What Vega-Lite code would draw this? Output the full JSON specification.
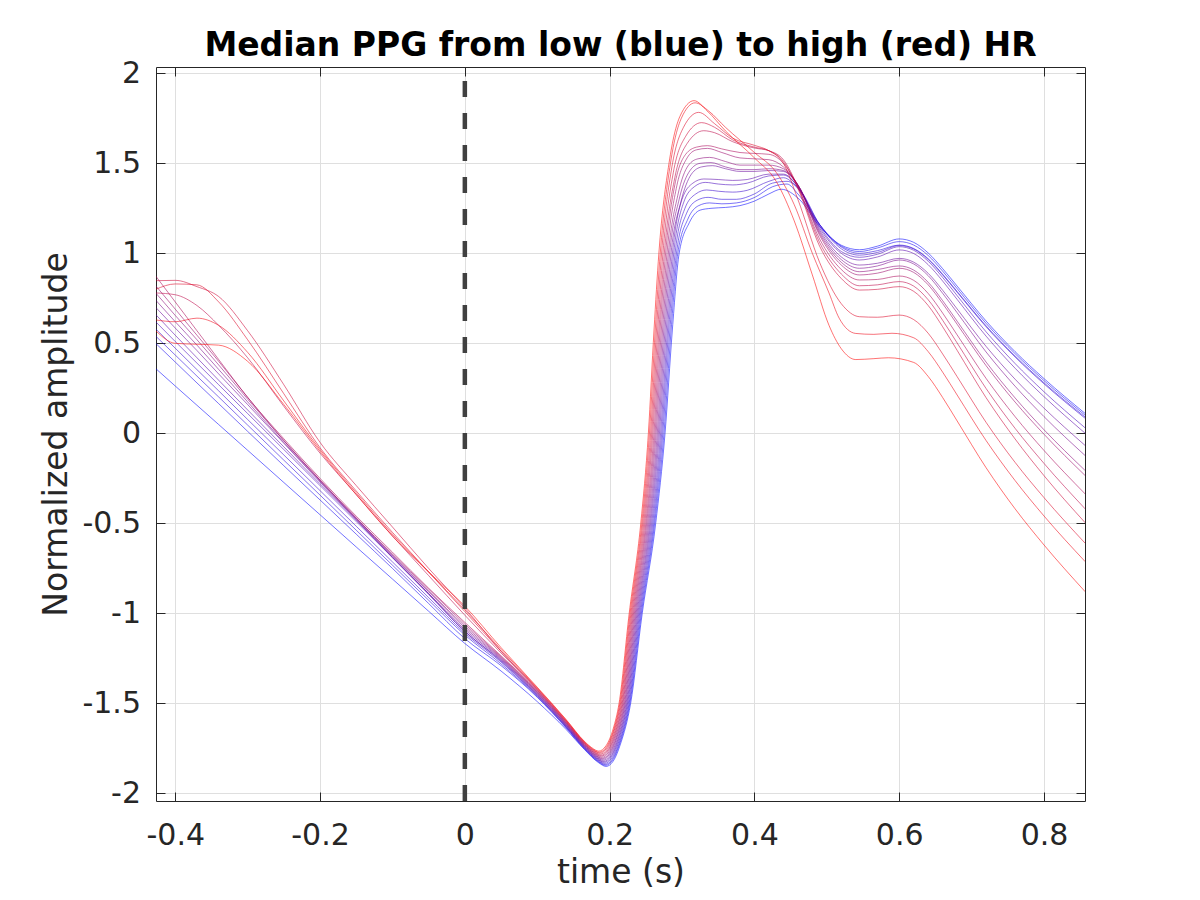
{
"$schema": "https://vega.github.io/schema/vega-lite/v6.json",
"width": 929, "height": 734,
"autosize": {"type": "none"},
"padding": {"left": 156, "top": 67, "right": 115, "bottom": 99},
"background": "white",
"title": {"text": "Median PPG from low (blue) to high (red) HR", "font": "DejaVu Sans", "fontSize": 33, "fontWeight": "bold", "color": "#000000", "anchor": "middle", "baseline": "alphabetic", "offset": 12, "dy": 43},
"datasets": {
"curves": [
{"k":0,"t":-0.427,"v":0.36},{"k":0,"t":-0.4,"v":0.263},{"k":0,"t":-0.37,"v":0.156},{"k":0,"t":-0.34,"v":0.049},{"k":0,"t":-0.3,"v":-0.094},{"k":0,"t":-0.25,"v":-0.273},{"k":0,"t":-0.2,"v":-0.452},{"k":0,"t":-0.15,"v":-0.631},{"k":0,"t":-0.1,"v":-0.809},{"k":0,"t":-0.05,"v":-0.988},{"k":0,"t":0,"v":-1.167},{"k":0,"t":0.05,"v":-1.32},{"k":0,"t":0.1,"v":-1.49},{"k":0,"t":0.14,"v":-1.645},{"k":0,"t":0.165,"v":-1.755},{"k":0,"t":0.185,"v":-1.83},{"k":0,"t":0.195,"v":-1.85},{"k":0,"t":0.205,"v":-1.82},{"k":0,"t":0.215,"v":-1.725},{"k":0,"t":0.229,"v":-1.5},{"k":0,"t":0.245,"v":-1.0},{"k":0,"t":0.2636,"v":-0.5},{"k":0,"t":0.2765,"v":0},{"k":0,"t":0.2866,"v":0.574},{"k":0,"t":0.296,"v":1.0},{"k":0,"t":0.31,"v":1.17},{"k":0,"t":0.325,"v":1.24},{"k":0,"t":0.34,"v":1.25},{"k":0,"t":0.36,"v":1.255},{"k":0,"t":0.38,"v":1.265},{"k":0,"t":0.4,"v":1.29},{"k":0,"t":0.42,"v":1.33},{"k":0,"t":0.437,"v":1.356},{"k":0,"t":0.462,"v":1.3},{"k":0,"t":0.49,"v":1.15},{"k":0,"t":0.52,"v":1.045},{"k":0,"t":0.545,"v":1.02},{"k":0,"t":0.57,"v":1.04},{"k":0,"t":0.6,"v":1.08},{"k":0,"t":0.62,"v":1.061},{"k":0,"t":0.64,"v":1.002},{"k":0,"t":0.66,"v":0.915},{"k":0,"t":0.68,"v":0.818},{"k":0,"t":0.72,"v":0.624},{"k":0,"t":0.76,"v":0.454},{"k":0,"t":0.8,"v":0.304},{"k":0,"t":0.857,"v":0.11},
{"k":1,"t":-0.427,"v":0.5},{"k":1,"t":-0.4,"v":0.396},{"k":1,"t":-0.37,"v":0.28},{"k":1,"t":-0.34,"v":0.165},{"k":1,"t":-0.3,"v":0.011},{"k":1,"t":-0.25,"v":-0.18},{"k":1,"t":-0.2,"v":-0.37},{"k":1,"t":-0.15,"v":-0.56},{"k":1,"t":-0.1,"v":-0.75},{"k":1,"t":-0.05,"v":-0.945},{"k":1,"t":0,"v":-1.14},{"k":1,"t":0.05,"v":-1.29},{"k":1,"t":0.1,"v":-1.466},{"k":1,"t":0.14,"v":-1.637},{"k":1,"t":0.165,"v":-1.752},{"k":1,"t":0.1843,"v":-1.824},{"k":1,"t":0.1943,"v":-1.844},{"k":1,"t":0.2043,"v":-1.814},{"k":1,"t":0.2143,"v":-1.719},{"k":1,"t":0.2279,"v":-1.5},{"k":1,"t":0.2438,"v":-1.0},{"k":1,"t":0.2622,"v":-0.5},{"k":1,"t":0.275,"v":0},{"k":1,"t":0.2849,"v":0.574},{"k":1,"t":0.2941,"v":1.0},{"k":1,"t":0.308,"v":1.19},{"k":1,"t":0.323,"v":1.265},{"k":1,"t":0.338,"v":1.28},{"k":1,"t":0.355,"v":1.275},{"k":1,"t":0.375,"v":1.28},{"k":1,"t":0.4,"v":1.31},{"k":1,"t":0.425,"v":1.37},{"k":1,"t":0.445,"v":1.385},{"k":1,"t":0.46,"v":1.33},{"k":1,"t":0.49,"v":1.16},{"k":1,"t":0.52,"v":1.04},{"k":1,"t":0.545,"v":1.01},{"k":1,"t":0.57,"v":1.03},{"k":1,"t":0.6,"v":1.065},{"k":1,"t":0.62,"v":1.046},{"k":1,"t":0.64,"v":0.988},{"k":1,"t":0.66,"v":0.901},{"k":1,"t":0.68,"v":0.804},{"k":1,"t":0.72,"v":0.611},{"k":1,"t":0.76,"v":0.443},{"k":1,"t":0.8,"v":0.293},{"k":1,"t":0.857,"v":0.1},
{"k":2,"t":-0.427,"v":0.54},{"k":2,"t":-0.4,"v":0.435},{"k":2,"t":-0.37,"v":0.318},{"k":2,"t":-0.34,"v":0.202},{"k":2,"t":-0.3,"v":0.046},{"k":2,"t":-0.25,"v":-0.149},{"k":2,"t":-0.2,"v":-0.343},{"k":2,"t":-0.15,"v":-0.538},{"k":2,"t":-0.1,"v":-0.732},{"k":2,"t":-0.05,"v":-0.927},{"k":2,"t":0,"v":-1.12},{"k":2,"t":0.05,"v":-1.28},{"k":2,"t":0.1,"v":-1.462},{"k":2,"t":0.14,"v":-1.633},{"k":2,"t":0.165,"v":-1.749},{"k":2,"t":0.1837,"v":-1.819},{"k":2,"t":0.1937,"v":-1.839},{"k":2,"t":0.2037,"v":-1.809},{"k":2,"t":0.2137,"v":-1.714},{"k":2,"t":0.2269,"v":-1.5},{"k":2,"t":0.2426,"v":-1.0},{"k":2,"t":0.2609,"v":-0.5},{"k":2,"t":0.2734,"v":0},{"k":2,"t":0.2832,"v":0.574},{"k":2,"t":0.2923,"v":1.0},{"k":2,"t":0.306,"v":1.22},{"k":2,"t":0.321,"v":1.295},{"k":2,"t":0.336,"v":1.311},{"k":2,"t":0.355,"v":1.3},{"k":2,"t":0.375,"v":1.3},{"k":2,"t":0.4,"v":1.33},{"k":2,"t":0.425,"v":1.39},{"k":2,"t":0.445,"v":1.4},{"k":2,"t":0.465,"v":1.34},{"k":2,"t":0.49,"v":1.16},{"k":2,"t":0.52,"v":1.035},{"k":2,"t":0.545,"v":1.0},{"k":2,"t":0.57,"v":1.015},{"k":2,"t":0.6,"v":1.046},{"k":2,"t":0.62,"v":1.027},{"k":2,"t":0.64,"v":0.97},{"k":2,"t":0.66,"v":0.884},{"k":2,"t":0.68,"v":0.788},{"k":2,"t":0.72,"v":0.597},{"k":2,"t":0.76,"v":0.43},{"k":2,"t":0.8,"v":0.281},{"k":2,"t":0.857,"v":0.09},
{"k":3,"t":-0.427,"v":0.58},{"k":3,"t":-0.4,"v":0.473},{"k":3,"t":-0.37,"v":0.354},{"k":3,"t":-0.34,"v":0.236},{"k":3,"t":-0.3,"v":0.077},{"k":3,"t":-0.25,"v":-0.12},{"k":3,"t":-0.2,"v":-0.318},{"k":3,"t":-0.15,"v":-0.516},{"k":3,"t":-0.1,"v":-0.714},{"k":3,"t":-0.05,"v":-0.912},{"k":3,"t":0,"v":-1.11},{"k":3,"t":0.05,"v":-1.27},{"k":3,"t":0.1,"v":-1.458},{"k":3,"t":0.14,"v":-1.63},{"k":3,"t":0.165,"v":-1.746},{"k":3,"t":0.183,"v":-1.813},{"k":3,"t":0.193,"v":-1.833},{"k":3,"t":0.203,"v":-1.803},{"k":3,"t":0.213,"v":-1.708},{"k":3,"t":0.2258,"v":-1.5},{"k":3,"t":0.2414,"v":-1.0},{"k":3,"t":0.2595,"v":-0.5},{"k":3,"t":0.2719,"v":0},{"k":3,"t":0.2815,"v":0.574},{"k":3,"t":0.2904,"v":1.0},{"k":3,"t":0.304,"v":1.25},{"k":3,"t":0.319,"v":1.33},{"k":3,"t":0.334,"v":1.352},{"k":3,"t":0.35,"v":1.345},{"k":3,"t":0.37,"v":1.34},{"k":3,"t":0.39,"v":1.35},{"k":3,"t":0.42,"v":1.4},{"k":3,"t":0.44,"v":1.42},{"k":3,"t":0.46,"v":1.36},{"k":3,"t":0.49,"v":1.16},{"k":3,"t":0.52,"v":1.025},{"k":3,"t":0.545,"v":0.99},{"k":3,"t":0.57,"v":1.005},{"k":3,"t":0.6,"v":1.043},{"k":3,"t":0.62,"v":1.024},{"k":3,"t":0.64,"v":0.966},{"k":3,"t":0.66,"v":0.88},{"k":3,"t":0.68,"v":0.784},{"k":3,"t":0.72,"v":0.592},{"k":3,"t":0.76,"v":0.424},{"k":3,"t":0.8,"v":0.275},{"k":3,"t":0.857,"v":0.083},
{"k":4,"t":-0.427,"v":0.62},{"k":4,"t":-0.4,"v":0.51},{"k":4,"t":-0.37,"v":0.39},{"k":4,"t":-0.34,"v":0.27},{"k":4,"t":-0.3,"v":0.11},{"k":4,"t":-0.25,"v":-0.09},{"k":4,"t":-0.2,"v":-0.29},{"k":4,"t":-0.15,"v":-0.49},{"k":4,"t":-0.1,"v":-0.69},{"k":4,"t":-0.05,"v":-0.895},{"k":4,"t":0,"v":-1.1},{"k":4,"t":0.05,"v":-1.265},{"k":4,"t":0.1,"v":-1.454},{"k":4,"t":0.14,"v":-1.627},{"k":4,"t":0.165,"v":-1.743},{"k":4,"t":0.1823,"v":-1.807},{"k":4,"t":0.1923,"v":-1.827},{"k":4,"t":0.2023,"v":-1.797},{"k":4,"t":0.2123,"v":-1.702},{"k":4,"t":0.2247,"v":-1.5},{"k":4,"t":0.2402,"v":-1.0},{"k":4,"t":0.2581,"v":-0.5},{"k":4,"t":0.2704,"v":0},{"k":4,"t":0.2799,"v":0.574},{"k":4,"t":0.2885,"v":1.0},{"k":4,"t":0.302,"v":1.28},{"k":4,"t":0.317,"v":1.37},{"k":4,"t":0.332,"v":1.394},{"k":4,"t":0.35,"v":1.385},{"k":4,"t":0.37,"v":1.38},{"k":4,"t":0.39,"v":1.39},{"k":4,"t":0.42,"v":1.43},{"k":4,"t":0.44,"v":1.435},{"k":4,"t":0.46,"v":1.37},{"k":4,"t":0.49,"v":1.15},{"k":4,"t":0.52,"v":1.01},{"k":4,"t":0.545,"v":0.978},{"k":4,"t":0.57,"v":0.995},{"k":4,"t":0.6,"v":1.037},{"k":4,"t":0.62,"v":1.017},{"k":4,"t":0.64,"v":0.956},{"k":4,"t":0.66,"v":0.866},{"k":4,"t":0.68,"v":0.765},{"k":4,"t":0.72,"v":0.564},{"k":4,"t":0.76,"v":0.388},{"k":4,"t":0.8,"v":0.231},{"k":4,"t":0.857,"v":0.03},
{"k":5,"t":-0.427,"v":0.66},{"k":5,"t":-0.4,"v":0.545},{"k":5,"t":-0.37,"v":0.42},{"k":5,"t":-0.34,"v":0.295},{"k":5,"t":-0.3,"v":0.13},{"k":5,"t":-0.25,"v":-0.075},{"k":5,"t":-0.2,"v":-0.28},{"k":5,"t":-0.15,"v":-0.48},{"k":5,"t":-0.1,"v":-0.685},{"k":5,"t":-0.05,"v":-0.89},{"k":5,"t":0,"v":-1.1},{"k":5,"t":0.05,"v":-1.26},{"k":5,"t":0.1,"v":-1.45},{"k":5,"t":0.14,"v":-1.623},{"k":5,"t":0.165,"v":-1.74},{"k":5,"t":0.1817,"v":-1.802},{"k":5,"t":0.1917,"v":-1.822},{"k":5,"t":0.2017,"v":-1.792},{"k":5,"t":0.2117,"v":-1.697},{"k":5,"t":0.2237,"v":-1.5},{"k":5,"t":0.239,"v":-1.0},{"k":5,"t":0.2567,"v":-0.5},{"k":5,"t":0.2688,"v":0},{"k":5,"t":0.2782,"v":0.574},{"k":5,"t":0.2867,"v":1.0},{"k":5,"t":0.3,"v":1.3},{"k":5,"t":0.315,"v":1.39},{"k":5,"t":0.33,"v":1.413},{"k":5,"t":0.35,"v":1.41},{"k":5,"t":0.37,"v":1.405},{"k":5,"t":0.39,"v":1.41},{"k":5,"t":0.42,"v":1.44},{"k":5,"t":0.44,"v":1.44},{"k":5,"t":0.46,"v":1.37},{"k":5,"t":0.49,"v":1.14},{"k":5,"t":0.52,"v":1.0},{"k":5,"t":0.545,"v":0.963},{"k":5,"t":0.57,"v":0.98},{"k":5,"t":0.6,"v":1.019},{"k":5,"t":0.62,"v":0.999},{"k":5,"t":0.64,"v":0.937},{"k":5,"t":0.66,"v":0.846},{"k":5,"t":0.68,"v":0.744},{"k":5,"t":0.72,"v":0.54},{"k":5,"t":0.76,"v":0.362},{"k":5,"t":0.8,"v":0.204},{"k":5,"t":0.857,"v":0.0},
{"k":6,"t":-0.427,"v":0.7},{"k":6,"t":-0.4,"v":0.585},{"k":6,"t":-0.37,"v":0.46},{"k":6,"t":-0.34,"v":0.33},{"k":6,"t":-0.3,"v":0.16},{"k":6,"t":-0.25,"v":-0.055},{"k":6,"t":-0.2,"v":-0.27},{"k":6,"t":-0.15,"v":-0.48},{"k":6,"t":-0.1,"v":-0.69},{"k":6,"t":-0.05,"v":-0.89},{"k":6,"t":0,"v":-1.09},{"k":6,"t":0.05,"v":-1.255},{"k":6,"t":0.1,"v":-1.446},{"k":6,"t":0.14,"v":-1.62},{"k":6,"t":0.165,"v":-1.737},{"k":6,"t":0.181,"v":-1.796},{"k":6,"t":0.191,"v":-1.816},{"k":6,"t":0.201,"v":-1.786},{"k":6,"t":0.211,"v":-1.691},{"k":6,"t":0.2226,"v":-1.5},{"k":6,"t":0.2378,"v":-1.0},{"k":6,"t":0.2554,"v":-0.5},{"k":6,"t":0.2673,"v":0},{"k":6,"t":0.2765,"v":0.574},{"k":6,"t":0.2848,"v":1.0},{"k":6,"t":0.298,"v":1.28},{"k":6,"t":0.313,"v":1.44},{"k":6,"t":0.327,"v":1.48},{"k":6,"t":0.342,"v":1.487},{"k":6,"t":0.36,"v":1.47},{"k":6,"t":0.38,"v":1.455},{"k":6,"t":0.4,"v":1.455},{"k":6,"t":0.42,"v":1.46},{"k":6,"t":0.44,"v":1.455},{"k":6,"t":0.46,"v":1.38},{"k":6,"t":0.49,"v":1.13},{"k":6,"t":0.52,"v":0.98},{"k":6,"t":0.545,"v":0.935},{"k":6,"t":0.57,"v":0.945},{"k":6,"t":0.6,"v":0.972},{"k":6,"t":0.62,"v":0.951},{"k":6,"t":0.64,"v":0.889},{"k":6,"t":0.66,"v":0.795},{"k":6,"t":0.68,"v":0.691},{"k":6,"t":0.72,"v":0.483},{"k":6,"t":0.76,"v":0.301},{"k":6,"t":0.8,"v":0.14},{"k":6,"t":0.857,"v":-0.068},
{"k":7,"t":-0.427,"v":0.74},{"k":7,"t":-0.4,"v":0.62},{"k":7,"t":-0.37,"v":0.49},{"k":7,"t":-0.34,"v":0.355},{"k":7,"t":-0.3,"v":0.175},{"k":7,"t":-0.25,"v":-0.05},{"k":7,"t":-0.2,"v":-0.265},{"k":7,"t":-0.15,"v":-0.475},{"k":7,"t":-0.1,"v":-0.68},{"k":7,"t":-0.05,"v":-0.88},{"k":7,"t":0,"v":-1.08},{"k":7,"t":0.05,"v":-1.25},{"k":7,"t":0.1,"v":-1.442},{"k":7,"t":0.14,"v":-1.617},{"k":7,"t":0.165,"v":-1.734},{"k":7,"t":0.1803,"v":-1.79},{"k":7,"t":0.1903,"v":-1.81},{"k":7,"t":0.2003,"v":-1.78},{"k":7,"t":0.2103,"v":-1.685},{"k":7,"t":0.2215,"v":-1.5},{"k":7,"t":0.2366,"v":-1.0},{"k":7,"t":0.254,"v":-0.5},{"k":7,"t":0.2658,"v":0},{"k":7,"t":0.2748,"v":0.574},{"k":7,"t":0.2829,"v":1.0},{"k":7,"t":0.296,"v":1.3},{"k":7,"t":0.311,"v":1.46},{"k":7,"t":0.325,"v":1.5},{"k":7,"t":0.34,"v":1.504},{"k":7,"t":0.36,"v":1.48},{"k":7,"t":0.38,"v":1.465},{"k":7,"t":0.4,"v":1.465},{"k":7,"t":0.42,"v":1.47},{"k":7,"t":0.44,"v":1.46},{"k":7,"t":0.46,"v":1.38},{"k":7,"t":0.49,"v":1.12},{"k":7,"t":0.52,"v":0.965},{"k":7,"t":0.545,"v":0.917},{"k":7,"t":0.57,"v":0.93},{"k":7,"t":0.6,"v":0.963},{"k":7,"t":0.62,"v":0.941},{"k":7,"t":0.64,"v":0.876},{"k":7,"t":0.66,"v":0.778},{"k":7,"t":0.68,"v":0.67},{"k":7,"t":0.72,"v":0.452},{"k":7,"t":0.76,"v":0.262},{"k":7,"t":0.8,"v":0.093},{"k":7,"t":0.857,"v":-0.124},
{"k":8,"t":-0.427,"v":0.78},{"k":8,"t":-0.4,"v":0.655},{"k":8,"t":-0.37,"v":0.52},{"k":8,"t":-0.34,"v":0.38},{"k":8,"t":-0.3,"v":0.19},{"k":8,"t":-0.25,"v":-0.04},{"k":8,"t":-0.2,"v":-0.26},{"k":8,"t":-0.15,"v":-0.47},{"k":8,"t":-0.1,"v":-0.675},{"k":8,"t":-0.05,"v":-0.875},{"k":8,"t":0,"v":-1.07},{"k":8,"t":0.05,"v":-1.245},{"k":8,"t":0.1,"v":-1.438},{"k":8,"t":0.14,"v":-1.613},{"k":8,"t":0.165,"v":-1.731},{"k":8,"t":0.1797,"v":-1.785},{"k":8,"t":0.1897,"v":-1.805},{"k":8,"t":0.1997,"v":-1.775},{"k":8,"t":0.2097,"v":-1.68},{"k":8,"t":0.2205,"v":-1.5},{"k":8,"t":0.2354,"v":-1.0},{"k":8,"t":0.2526,"v":-0.5},{"k":8,"t":0.2642,"v":0},{"k":8,"t":0.2731,"v":0.574},{"k":8,"t":0.2811,"v":1.0},{"k":8,"t":0.294,"v":1.32},{"k":8,"t":0.309,"v":1.49},{"k":8,"t":0.322,"v":1.525},{"k":8,"t":0.338,"v":1.533},{"k":8,"t":0.36,"v":1.51},{"k":8,"t":0.38,"v":1.49},{"k":8,"t":0.4,"v":1.49},{"k":8,"t":0.42,"v":1.49},{"k":8,"t":0.44,"v":1.47},{"k":8,"t":0.46,"v":1.38},{"k":8,"t":0.49,"v":1.11},{"k":8,"t":0.52,"v":0.95},{"k":8,"t":0.545,"v":0.898},{"k":8,"t":0.57,"v":0.91},{"k":8,"t":0.6,"v":0.93},{"k":8,"t":0.62,"v":0.907},{"k":8,"t":0.64,"v":0.839},{"k":8,"t":0.66,"v":0.737},{"k":8,"t":0.68,"v":0.623},{"k":8,"t":0.72,"v":0.396},{"k":8,"t":0.76,"v":0.197},{"k":8,"t":0.8,"v":0.02},{"k":8,"t":0.857,"v":-0.207},
{"k":9,"t":-0.427,"v":0.82},{"k":9,"t":-0.4,"v":0.69},{"k":9,"t":-0.37,"v":0.545},{"k":9,"t":-0.34,"v":0.4},{"k":9,"t":-0.3,"v":0.2},{"k":9,"t":-0.25,"v":-0.04},{"k":9,"t":-0.2,"v":-0.26},{"k":9,"t":-0.15,"v":-0.47},{"k":9,"t":-0.1,"v":-0.67},{"k":9,"t":-0.05,"v":-0.865},{"k":9,"t":0,"v":-1.06},{"k":9,"t":0.05,"v":-1.24},{"k":9,"t":0.1,"v":-1.434},{"k":9,"t":0.14,"v":-1.61},{"k":9,"t":0.165,"v":-1.728},{"k":9,"t":0.179,"v":-1.779},{"k":9,"t":0.189,"v":-1.799},{"k":9,"t":0.199,"v":-1.769},{"k":9,"t":0.209,"v":-1.674},{"k":9,"t":0.2194,"v":-1.5},{"k":9,"t":0.2342,"v":-1.0},{"k":9,"t":0.2512,"v":-0.5},{"k":9,"t":0.2627,"v":0},{"k":9,"t":0.2714,"v":0.574},{"k":9,"t":0.2792,"v":1.0},{"k":9,"t":0.292,"v":1.36},{"k":9,"t":0.307,"v":1.53},{"k":9,"t":0.32,"v":1.575},{"k":9,"t":0.335,"v":1.583},{"k":9,"t":0.355,"v":1.56},{"k":9,"t":0.38,"v":1.53},{"k":9,"t":0.4,"v":1.525},{"k":9,"t":0.42,"v":1.52},{"k":9,"t":0.44,"v":1.48},{"k":9,"t":0.46,"v":1.38},{"k":9,"t":0.49,"v":1.1},{"k":9,"t":0.52,"v":0.935},{"k":9,"t":0.545,"v":0.88},{"k":9,"t":0.57,"v":0.89},{"k":9,"t":0.6,"v":0.917},{"k":9,"t":0.62,"v":0.894},{"k":9,"t":0.64,"v":0.825},{"k":9,"t":0.66,"v":0.721},{"k":9,"t":0.68,"v":0.606},{"k":9,"t":0.72,"v":0.376},{"k":9,"t":0.76,"v":0.174},{"k":9,"t":0.8,"v":-0.005},{"k":9,"t":0.857,"v":-0.235},
{"k":10,"t":-0.427,"v":0.874},{"k":10,"t":-0.4,"v":0.73},{"k":10,"t":-0.37,"v":0.57},{"k":10,"t":-0.34,"v":0.41},{"k":10,"t":-0.3,"v":0.2},{"k":10,"t":-0.25,"v":-0.03},{"k":10,"t":-0.2,"v":-0.25},{"k":10,"t":-0.15,"v":-0.46},{"k":10,"t":-0.1,"v":-0.66},{"k":10,"t":-0.05,"v":-0.86},{"k":10,"t":0,"v":-1.05},{"k":10,"t":0.05,"v":-1.235},{"k":10,"t":0.1,"v":-1.43},{"k":10,"t":0.14,"v":-1.607},{"k":10,"t":0.165,"v":-1.725},{"k":10,"t":0.1783,"v":-1.773},{"k":10,"t":0.1883,"v":-1.793},{"k":10,"t":0.1983,"v":-1.763},{"k":10,"t":0.2083,"v":-1.668},{"k":10,"t":0.2183,"v":-1.5},{"k":10,"t":0.233,"v":-1.0},{"k":10,"t":0.2499,"v":-0.5},{"k":10,"t":0.2612,"v":0},{"k":10,"t":0.2697,"v":0.574},{"k":10,"t":0.2773,"v":1.0},{"k":10,"t":0.29,"v":1.38},{"k":10,"t":0.305,"v":1.55},{"k":10,"t":0.32,"v":1.59},{"k":10,"t":0.335,"v":1.598},{"k":10,"t":0.355,"v":1.58},{"k":10,"t":0.38,"v":1.56},{"k":10,"t":0.4,"v":1.555},{"k":10,"t":0.42,"v":1.55},{"k":10,"t":0.44,"v":1.5},{"k":10,"t":0.46,"v":1.37},{"k":10,"t":0.49,"v":1.08},{"k":10,"t":0.52,"v":0.91},{"k":10,"t":0.545,"v":0.852},{"k":10,"t":0.57,"v":0.855},{"k":10,"t":0.6,"v":0.874},{"k":10,"t":0.62,"v":0.85},{"k":10,"t":0.64,"v":0.777},{"k":10,"t":0.66,"v":0.668},{"k":10,"t":0.68,"v":0.547},{"k":10,"t":0.72,"v":0.305},{"k":10,"t":0.76,"v":0.093},{"k":10,"t":0.8,"v":-0.095},{"k":10,"t":0.857,"v":-0.337},
{"k":11,"t":-0.427,"v":0.78},{"k":11,"t":-0.4,"v":0.77},{"k":11,"t":-0.37,"v":0.71},{"k":11,"t":-0.34,"v":0.6},{"k":11,"t":-0.3,"v":0.42},{"k":11,"t":-0.25,"v":0.15},{"k":11,"t":-0.2,"v":-0.11},{"k":11,"t":-0.15,"v":-0.34},{"k":11,"t":-0.1,"v":-0.57},{"k":11,"t":-0.05,"v":-0.79},{"k":11,"t":0,"v":-1.01},{"k":11,"t":0.05,"v":-1.22},{"k":11,"t":0.1,"v":-1.426},{"k":11,"t":0.14,"v":-1.603},{"k":11,"t":0.165,"v":-1.722},{"k":11,"t":0.1777,"v":-1.768},{"k":11,"t":0.1877,"v":-1.788},{"k":11,"t":0.1977,"v":-1.758},{"k":11,"t":0.2077,"v":-1.663},{"k":11,"t":0.2173,"v":-1.5},{"k":11,"t":0.2318,"v":-1.0},{"k":11,"t":0.2485,"v":-0.5},{"k":11,"t":0.2596,"v":0},{"k":11,"t":0.2681,"v":0.574},{"k":11,"t":0.2755,"v":1.0},{"k":11,"t":0.29,"v":1.42},{"k":11,"t":0.307,"v":1.61},{"k":11,"t":0.33,"v":1.681},{"k":11,"t":0.345,"v":1.67},{"k":11,"t":0.37,"v":1.62},{"k":11,"t":0.4,"v":1.585},{"k":11,"t":0.42,"v":1.57},{"k":11,"t":0.44,"v":1.52},{"k":11,"t":0.46,"v":1.37},{"k":11,"t":0.49,"v":1.06},{"k":11,"t":0.52,"v":0.885},{"k":11,"t":0.545,"v":0.82},{"k":11,"t":0.57,"v":0.825},{"k":11,"t":0.6,"v":0.843},{"k":11,"t":0.62,"v":0.818},{"k":11,"t":0.64,"v":0.742},{"k":11,"t":0.66,"v":0.628},{"k":11,"t":0.68,"v":0.502},{"k":11,"t":0.72,"v":0.249},{"k":11,"t":0.76,"v":0.028},{"k":11,"t":0.8,"v":-0.167},{"k":11,"t":0.857,"v":-0.42},
{"k":12,"t":-0.427,"v":0.848},{"k":12,"t":-0.4,"v":0.85},{"k":12,"t":-0.37,"v":0.815},{"k":12,"t":-0.34,"v":0.76},{"k":12,"t":-0.3,"v":0.57},{"k":12,"t":-0.25,"v":0.27},{"k":12,"t":-0.2,"v":-0.05},{"k":12,"t":-0.15,"v":-0.29},{"k":12,"t":-0.1,"v":-0.52},{"k":12,"t":-0.05,"v":-0.75},{"k":12,"t":0,"v":-0.97},{"k":12,"t":0.05,"v":-1.21},{"k":12,"t":0.1,"v":-1.422},{"k":12,"t":0.14,"v":-1.6},{"k":12,"t":0.165,"v":-1.719},{"k":12,"t":0.177,"v":-1.762},{"k":12,"t":0.187,"v":-1.782},{"k":12,"t":0.197,"v":-1.752},{"k":12,"t":0.207,"v":-1.657},{"k":12,"t":0.2162,"v":-1.5},{"k":12,"t":0.2306,"v":-1.0},{"k":12,"t":0.2471,"v":-0.5},{"k":12,"t":0.2581,"v":0},{"k":12,"t":0.2664,"v":0.574},{"k":12,"t":0.2736,"v":1.0},{"k":12,"t":0.288,"v":1.45},{"k":12,"t":0.305,"v":1.65},{"k":12,"t":0.327,"v":1.726},{"k":12,"t":0.345,"v":1.7},{"k":12,"t":0.37,"v":1.63},{"k":12,"t":0.4,"v":1.59},{"k":12,"t":0.42,"v":1.57},{"k":12,"t":0.44,"v":1.51},{"k":12,"t":0.46,"v":1.36},{"k":12,"t":0.49,"v":1.04},{"k":12,"t":0.52,"v":0.86},{"k":12,"t":0.545,"v":0.796},{"k":12,"t":0.57,"v":0.8},{"k":12,"t":0.6,"v":0.815},{"k":12,"t":0.62,"v":0.789},{"k":12,"t":0.64,"v":0.71},{"k":12,"t":0.66,"v":0.592},{"k":12,"t":0.68,"v":0.461},{"k":12,"t":0.72,"v":0.198},{"k":12,"t":0.76,"v":-0.031},{"k":12,"t":0.8,"v":-0.235},{"k":12,"t":0.857,"v":-0.497},
{"k":13,"t":-0.427,"v":0.8},{"k":13,"t":-0.4,"v":0.83},{"k":13,"t":-0.37,"v":0.825},{"k":13,"t":-0.34,"v":0.73},{"k":13,"t":-0.3,"v":0.52},{"k":13,"t":-0.25,"v":0.22},{"k":13,"t":-0.2,"v":-0.08},{"k":13,"t":-0.15,"v":-0.32},{"k":13,"t":-0.1,"v":-0.55},{"k":13,"t":-0.05,"v":-0.77},{"k":13,"t":0,"v":-0.99},{"k":13,"t":0.05,"v":-1.21},{"k":13,"t":0.1,"v":-1.418},{"k":13,"t":0.14,"v":-1.597},{"k":13,"t":0.165,"v":-1.716},{"k":13,"t":0.1763,"v":-1.756},{"k":13,"t":0.1863,"v":-1.776},{"k":13,"t":0.1963,"v":-1.746},{"k":13,"t":0.2063,"v":-1.651},{"k":13,"t":0.2151,"v":-1.5},{"k":13,"t":0.2294,"v":-1.0},{"k":13,"t":0.2457,"v":-0.5},{"k":13,"t":0.2566,"v":0},{"k":13,"t":0.2647,"v":0.574},{"k":13,"t":0.2717,"v":1.0},{"k":13,"t":0.286,"v":1.48},{"k":13,"t":0.302,"v":1.7},{"k":13,"t":0.323,"v":1.783},{"k":13,"t":0.345,"v":1.72},{"k":13,"t":0.37,"v":1.64},{"k":13,"t":0.4,"v":1.6},{"k":13,"t":0.42,"v":1.57},{"k":13,"t":0.44,"v":1.5},{"k":13,"t":0.46,"v":1.3},{"k":13,"t":0.49,"v":0.95},{"k":13,"t":0.52,"v":0.72},{"k":13,"t":0.545,"v":0.648},{"k":13,"t":0.57,"v":0.645},{"k":13,"t":0.6,"v":0.657},{"k":13,"t":0.62,"v":0.632},{"k":13,"t":0.64,"v":0.556},{"k":13,"t":0.66,"v":0.441},{"k":13,"t":0.68,"v":0.315},{"k":13,"t":0.72,"v":0.061},{"k":13,"t":0.76,"v":-0.161},{"k":13,"t":0.8,"v":-0.357},{"k":13,"t":0.857,"v":-0.611},
{"k":14,"t":-0.427,"v":0.63},{"k":14,"t":-0.4,"v":0.62},{"k":14,"t":-0.37,"v":0.64},{"k":14,"t":-0.34,"v":0.6},{"k":14,"t":-0.3,"v":0.45},{"k":14,"t":-0.25,"v":0.18},{"k":14,"t":-0.2,"v":-0.09},{"k":14,"t":-0.15,"v":-0.33},{"k":14,"t":-0.1,"v":-0.56},{"k":14,"t":-0.05,"v":-0.77},{"k":14,"t":0,"v":-0.98},{"k":14,"t":0.05,"v":-1.2},{"k":14,"t":0.1,"v":-1.414},{"k":14,"t":0.14,"v":-1.593},{"k":14,"t":0.165,"v":-1.713},{"k":14,"t":0.1757,"v":-1.751},{"k":14,"t":0.1857,"v":-1.771},{"k":14,"t":0.1957,"v":-1.741},{"k":14,"t":0.2057,"v":-1.646},{"k":14,"t":0.2141,"v":-1.5},{"k":14,"t":0.2282,"v":-1.0},{"k":14,"t":0.2444,"v":-0.5},{"k":14,"t":0.255,"v":0},{"k":14,"t":0.263,"v":0.574},{"k":14,"t":0.2699,"v":1.0},{"k":14,"t":0.284,"v":1.5},{"k":14,"t":0.299,"v":1.75},{"k":14,"t":0.318,"v":1.836},{"k":14,"t":0.337,"v":1.79},{"k":14,"t":0.36,"v":1.7},{"k":14,"t":0.4,"v":1.56},{"k":14,"t":0.43,"v":1.45},{"k":14,"t":0.455,"v":1.27},{"k":14,"t":0.48,"v":1.0},{"k":14,"t":0.503,"v":0.78},{"k":14,"t":0.517,"v":0.64},{"k":14,"t":0.54,"v":0.555},{"k":14,"t":0.565,"v":0.55},{"k":14,"t":0.59,"v":0.556},{"k":14,"t":0.62,"v":0.531},{"k":14,"t":0.64,"v":0.454},{"k":14,"t":0.66,"v":0.34},{"k":14,"t":0.68,"v":0.213},{"k":14,"t":0.72,"v":-0.04},{"k":14,"t":0.76,"v":-0.262},{"k":14,"t":0.8,"v":-0.459},{"k":14,"t":0.857,"v":-0.713},
{"k":15,"t":-0.427,"v":0.57},{"k":15,"t":-0.4,"v":0.5},{"k":15,"t":-0.37,"v":0.495},{"k":15,"t":-0.34,"v":0.49},{"k":15,"t":-0.3,"v":0.4},{"k":15,"t":-0.25,"v":0.16},{"k":15,"t":-0.2,"v":-0.1},{"k":15,"t":-0.15,"v":-0.34},{"k":15,"t":-0.1,"v":-0.57},{"k":15,"t":-0.05,"v":-0.77},{"k":15,"t":0,"v":-0.96},{"k":15,"t":0.05,"v":-1.19},{"k":15,"t":0.1,"v":-1.41},{"k":15,"t":0.14,"v":-1.59},{"k":15,"t":0.165,"v":-1.71},{"k":15,"t":0.175,"v":-1.745},{"k":15,"t":0.185,"v":-1.765},{"k":15,"t":0.195,"v":-1.735},{"k":15,"t":0.205,"v":-1.64},{"k":15,"t":0.213,"v":-1.5},{"k":15,"t":0.227,"v":-1.0},{"k":15,"t":0.243,"v":-0.5},{"k":15,"t":0.2535,"v":0},{"k":15,"t":0.2613,"v":0.574},{"k":15,"t":0.268,"v":1.0},{"k":15,"t":0.282,"v":1.5},{"k":15,"t":0.297,"v":1.76},{"k":15,"t":0.3166,"v":1.848},{"k":15,"t":0.335,"v":1.79},{"k":15,"t":0.36,"v":1.68},{"k":15,"t":0.4,"v":1.53},{"k":15,"t":0.43,"v":1.4},{"k":15,"t":0.455,"v":1.18},{"k":15,"t":0.48,"v":0.88},{"k":15,"t":0.503,"v":0.6},{"k":15,"t":0.52,"v":0.47},{"k":15,"t":0.54,"v":0.41},{"k":15,"t":0.565,"v":0.415},{"k":15,"t":0.585,"v":0.42},{"k":15,"t":0.62,"v":0.394},{"k":15,"t":0.64,"v":0.316},{"k":15,"t":0.66,"v":0.199},{"k":15,"t":0.68,"v":0.069},{"k":15,"t":0.72,"v":-0.191},{"k":15,"t":0.76,"v":-0.419},{"k":15,"t":0.8,"v":-0.62},{"k":15,"t":0.857,"v":-0.88}
],
"marker": [{"t": 0}]
},
"layer": [
{
"data": {"name": "curves"},
"mark": {"type": "line", "strokeWidth": 1, "opacity": 0.55, "interpolate": "monotone", "clip": true},
"encoding": {
"x": {"field": "t", "type": "quantitative", "scale": {"domain": [-0.4266, 0.8566], "nice": false, "zero": false},
"axis": {"orient": "bottom", "values": [-0.4, -0.2, 0, 0.2, 0.4, 0.6, 0.8], "labelExpr": "'' + datum.value", "title": "time (s)", "grid": true, "labelPadding": 28, "titleBaseline": "alphabetic", "titleY": 81.5}},
"y": {"field": "v", "type": "quantitative", "scale": {"domain": [-2.042, 2.035], "nice": false, "zero": false},
"axis": {"orient": "left", "values": [-2, -1.5, -1, -0.5, 0, 0.5, 1, 1.5, 2], "labelExpr": "'' + datum.value", "title": "Normalized amplitude", "grid": true, "labelPadding": 24.5, "titleBaseline": "alphabetic", "titleX": -90, "titleY": 367, "titleAngle": 270}},
"color": {"field": "k", "type": "quantitative", "scale": {"domain": [0, 15], "range": ["#0000ff", "#ff0000"], "interpolate": "rgb"}, "legend": null},
"detail": {"field": "k", "type": "nominal"}
}
},
{
"data": {"name": "marker"},
"mark": {"type": "rule", "color": "#404040", "strokeWidth": 4.5, "strokeDash": [16, 16]},
"encoding": {
"x": {"field": "t", "type": "quantitative", "axis": {"orient": "top", "values": [-0.4, -0.2, 0, 0.2, 0.4, 0.6, 0.8], "labels": false, "title": null, "grid": false}},
"y": {"datum": -2.042, "type": "quantitative", "axis": {"orient": "right", "values": [-2, -1.5, -1, -0.5, 0, 0.5, 1, 1.5, 2], "labels": false, "title": null, "grid": false}},
"y2": {"datum": 2.035}
}
}
],
"resolve": {"axis": {"x": "independent", "y": "independent"}},
"config": {
"view": {"stroke": null},
"font": "DejaVu Sans",
"axis": {
"labelFont": "DejaVu Sans", "labelFontSize": 30, "labelColor": "#262626",
"titleFont": "DejaVu Sans", "titleFontSize": 33, "titleFontWeight": "normal", "titleColor": "#262626",
"domainColor": "#262626", "domainWidth": 1, "tickColor": "#262626", "tickWidth": 1, "tickSize": -9,
"gridColor": "#dfdfdf", "gridWidth": 1, "labelOverlap": false, "labelFlush": false, "labelBound": false
}
}
}
